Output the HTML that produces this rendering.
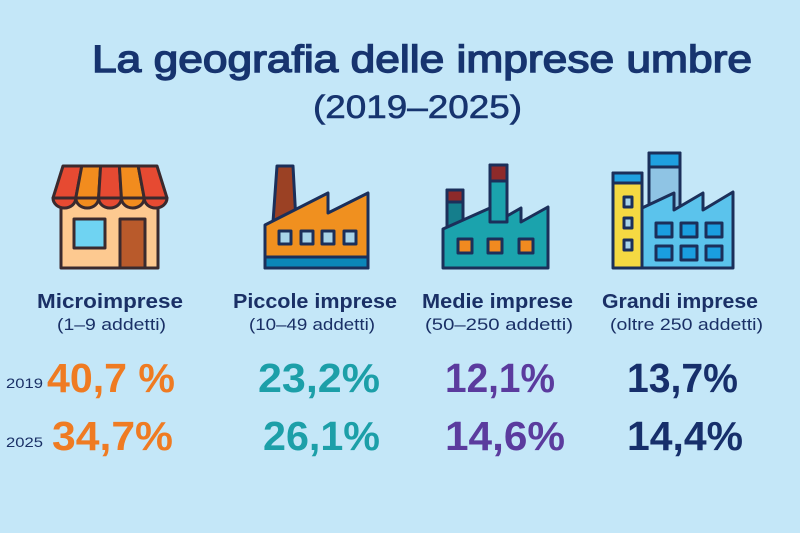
<!DOCTYPE html>
<html><head><meta charset="utf-8"><style>
html,body{margin:0;padding:0;background:#c4e7f8;}
svg{display:block;}
text{font-family:"Liberation Sans",sans-serif;}
</style></head><body>
<svg width="800" height="533" viewBox="0 0 800 533" xmlns="http://www.w3.org/2000/svg">
<rect width="800" height="533" fill="#c4e7f8"/>
<text x="92" y="72" font-size="38" fill="#17346f" stroke="#17346f" stroke-width="1.4" textLength="660" lengthAdjust="spacingAndGlyphs">La geografia delle imprese umbre</text>
<text x="313" y="118" font-size="32" fill="#17346f" stroke="#17346f" stroke-width="0.6" textLength="209" lengthAdjust="spacingAndGlyphs">(2019–2025)</text>

<!-- Shop -->
<g stroke="#3a2a2e" stroke-width="3" stroke-linejoin="round">
<rect x="61" y="198" width="97" height="70" fill="#fdc990"/>
<rect x="74" y="219" width="31" height="29" fill="#6fd3f2"/>
<rect x="120" y="219" width="25" height="49" fill="#b95a2b"/>
<polygon points="63,166 81.8,166 75.8,198 53,198" fill="#e64a32"/>
<polygon points="81.8,166 100.6,166 98.6,198 75.8,198" fill="#f28c1e"/>
<polygon points="100.6,166 119.4,166 121.4,198 98.6,198" fill="#e64a32"/>
<polygon points="119.4,166 138.2,166 144.2,198 121.4,198" fill="#f28c1e"/>
<polygon points="138.2,166 157,166 167,198 144.2,198" fill="#e64a32"/>
<path d="M53,198 A11.4 10 0 0 0 75.8,198 Z" fill="#e64a32"/>
<path d="M75.8,198 A11.4 10 0 0 0 98.6,198 Z" fill="#f28c1e"/>
<path d="M98.6,198 A11.4 10 0 0 0 121.4,198 Z" fill="#e64a32"/>
<path d="M121.4,198 A11.4 10 0 0 0 144.2,198 Z" fill="#f28c1e"/>
<path d="M144.2,198 A11.4 10 0 0 0 167,198 Z" fill="#e64a32"/>
</g>

<!-- Factory small -->
<g stroke="#1b2f5a" stroke-width="3" stroke-linejoin="round">
<polygon points="277,166 293,166 296,222 273,222" fill="#9b4124"/>
<polygon points="265,225 328,193 328,213 368,193 368,268 265,268" fill="#f0901f"/>
<rect x="265" y="257" width="103" height="11" fill="#0b86b8"/>
<rect x="279" y="231" width="12" height="13" fill="#a8d4e8"/>
<rect x="301" y="231" width="12" height="13" fill="#a8d4e8"/>
<rect x="322" y="231" width="12" height="13" fill="#a8d4e8"/>
<rect x="344" y="231" width="12" height="13" fill="#a8d4e8"/>
</g>

<!-- Factory medium -->
<g stroke="#1b2f5a" stroke-width="3" stroke-linejoin="round">
<rect x="447" y="190" width="16" height="45" fill="#157e8c"/>
<rect x="447" y="190" width="16" height="12" fill="#8e2a2a"/>
<rect x="490" y="165" width="17" height="60" fill="#1ba3ad"/>
<rect x="490" y="165" width="17" height="16" fill="#8e2a2a"/>
<polygon points="443,229 490,208 490,222 507,222 507,216 521,208 521,222 548,207 548,268 443,268" fill="#1ba3ad"/>
<rect x="458" y="239" width="14" height="14" fill="#f08a20"/>
<rect x="488" y="239" width="14" height="14" fill="#f08a20"/>
<rect x="519" y="239" width="14" height="14" fill="#f08a20"/>
</g>

<!-- Factory large -->
<g stroke="#1b2f5a" stroke-width="3" stroke-linejoin="round">
<rect x="649" y="153" width="31" height="60" fill="#8fc4e4"/>
<rect x="649" y="153" width="31" height="14" fill="#1fa0e0"/>
<rect x="613" y="173" width="29" height="95" fill="#f5d942"/>
<rect x="613" y="173" width="29" height="10" fill="#1fa0e0"/>
<rect x="624" y="197" width="8" height="10" fill="#a8d4e8"/>
<rect x="624" y="218" width="8" height="10" fill="#a8d4e8"/>
<rect x="624" y="240" width="8" height="10" fill="#a8d4e8"/>
<polygon points="642,208 674,193 674,210 703,193 703,210 733,192 733,268 642,268" fill="#5bc3ec"/>
<rect x="656" y="223" width="16" height="14" fill="#1a9ee0"/>
<rect x="681" y="223" width="16" height="14" fill="#1a9ee0"/>
<rect x="706" y="223" width="16" height="14" fill="#1a9ee0"/>
<rect x="656" y="246" width="16" height="14" fill="#1a9ee0"/>
<rect x="681" y="246" width="16" height="14" fill="#1a9ee0"/>
<rect x="706" y="246" width="16" height="14" fill="#1a9ee0"/>
</g>

<!-- Labels -->
<g fill="#1a3066">
<text x="37" y="308" font-size="20" font-weight="700" textLength="146" lengthAdjust="spacingAndGlyphs">Microimprese</text>
<text x="57" y="330" font-size="17" textLength="109" lengthAdjust="spacingAndGlyphs">(1–9 addetti)</text>
<text x="233" y="308" font-size="20" font-weight="700" textLength="164" lengthAdjust="spacingAndGlyphs">Piccole imprese</text>
<text x="249" y="330" font-size="17" textLength="126" lengthAdjust="spacingAndGlyphs">(10–49 addetti)</text>
<text x="422" y="308" font-size="20" font-weight="700" textLength="151" lengthAdjust="spacingAndGlyphs">Medie imprese</text>
<text x="425" y="330" font-size="17" textLength="148" lengthAdjust="spacingAndGlyphs">(50–250 addetti)</text>
<text x="602" y="308" font-size="20" font-weight="700" textLength="156" lengthAdjust="spacingAndGlyphs">Grandi imprese</text>
<text x="610" y="330" font-size="17" textLength="153" lengthAdjust="spacingAndGlyphs">(oltre 250 addetti)</text>
<text x="6" y="388" font-size="14" textLength="37" lengthAdjust="spacingAndGlyphs">2019</text>
<text x="6" y="447" font-size="14" textLength="37" lengthAdjust="spacingAndGlyphs">2025</text>
</g>

<!-- Numbers -->
<g font-size="41" font-weight="700">
<text x="47" y="392" fill="#ef7b22" textLength="128" lengthAdjust="spacingAndGlyphs">40,7 %</text>
<text x="52" y="450" fill="#ef7b22" textLength="121" lengthAdjust="spacingAndGlyphs">34,7%</text>
<text x="258" y="392" fill="#1c9fa8" textLength="122" lengthAdjust="spacingAndGlyphs">23,2%</text>
<text x="263" y="450" fill="#1c9fa8" textLength="117" lengthAdjust="spacingAndGlyphs">26,1%</text>
<text x="445" y="392" fill="#5b3b9e" textLength="110" lengthAdjust="spacingAndGlyphs">12,1%</text>
<text x="445" y="450" fill="#5b3b9e" textLength="120" lengthAdjust="spacingAndGlyphs">14,6%</text>
<text x="627" y="392" fill="#172f6b" textLength="111" lengthAdjust="spacingAndGlyphs">13,7%</text>
<text x="627" y="450" fill="#172f6b" textLength="116" lengthAdjust="spacingAndGlyphs">14,4%</text>
</g>
</svg>
</body></html>
